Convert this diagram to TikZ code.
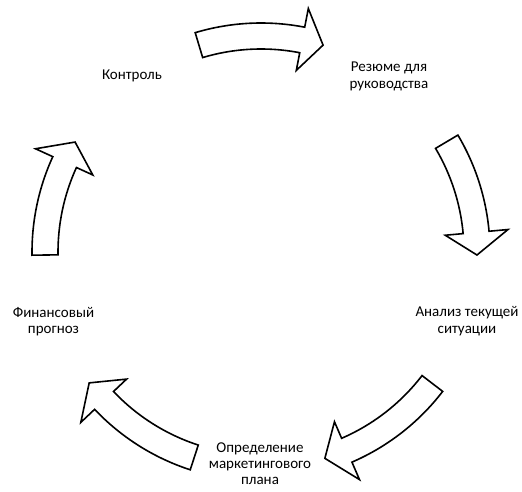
\documentclass[tikz,border=0pt]{standalone}
\usepackage{fontspec}
\setmainfont{Carlito}
\begin{document}
\begin{tikzpicture}[x=1pt,y=1pt,
  cyc/.style={draw=black, fill=white, line width=1.6pt, line join=miter},
  lbl/.style={align=center, font=\fontsize{15}{16.5}\selectfont, inner sep=0pt, text=black}]
\useasboundingbox (0,0) rectangle (522,491);
\foreach \ta/\ba/\pa in {106.7/79/73.3, 30.7/5.2/-0.8, -37.5/-66.6/-72.8, -108/-136.6/-142.7, 180.8/155.4/149.4}{
  \draw[cyc, shift={(261,239)}] (\ta:229) arc[start angle=\ta, end angle=\ba, radius=229]
    -- (\ba:248) -- (\pa:216) -- (\ba:185) -- (\ba:203)
    arc[start angle=\ba, end angle=\ta, radius=203] -- cycle;
}
\node[lbl] (kontrol) at (132,415) {Контроль};
\node[lbl] (rezyume) at (389,414.5) {Резюме для\\руководства};
\node[lbl] (analiz) at (467,170) {Анализ текущей\\ситуации};
\node[lbl, font=\fontsize{15}{16}\selectfont] (opred) at (260,27) {Определение\\маркетингового\\плана};
\node[lbl] (finans) at (53.5,169.5) {Финансовый\\прогноз};
\end{tikzpicture}
\end{document}
